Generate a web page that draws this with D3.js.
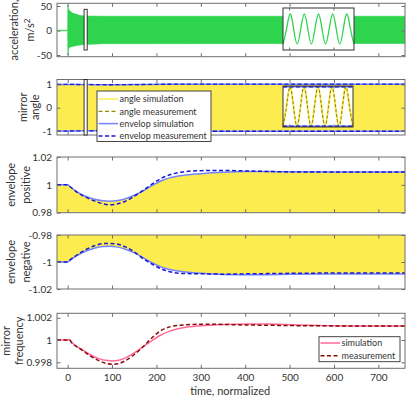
<!DOCTYPE html>
<html>
<head>
<meta charset="utf-8">
<title>Mirror response</title>
<script src="https://d3js.org/d3.v7.min.js"></script>
<style>
    body { margin: 0; background: #fff; }
    svg text { font-family: "Lato", "Liberation Sans", Arial, sans-serif; fill: #333; }
</style>
</head>
<body>
<div id="chart"></div>
<script>
    // ---- data ----
    const timeTicks = [0, 100, 200, 300, 400, 500, 600, 700];

    // acceleration: envelope of the dense oscillation
    const accelTime  = [-24, 0, 0.5, 2, 5, 10, 16, 28, 40, 80, 760];
    const accelUpper = [0.7, 0.7, 52, 44, 40, 36, 34, 30.6, 29.5, 29, 29];
    const accelLower = [-0.7, -0.7, -50, -38, -34, -32.5, -31.5, -29.5, -28.5, -27, -26.5];

    // zoom insets: a few cycles of the oscillation (quarter-cycle samples)
    const insetPhase = [0, 0.25, 0.5, 0.75, 1, 1.25, 1.5, 1.75, 2, 2.25, 2.5, 2.75, 3, 3.25, 3.5, 3.75, 4, 4.25, 4.5, 4.75, 5];
    const insetWave  = [-1, 0, 1, 0, -1, 0, 1, 0, -1, 0, 1, 0, -1, 0, 1, 0, -1, 0, 1, 0, -1];
    const zoomWindow = [37, 44];

    // envelope, positive side
    const envTime      = [-24, 0, 5, 20, 40, 60, 80, 95, 110, 130, 150, 170, 190, 210, 230, 260, 300, 350, 400, 450, 500, 600, 700, 760];
    const envPosSim    = [1, 1, 0.9988, 0.9952, 0.9918, 0.9897, 0.9886, 0.9883, 0.9886, 0.9900, 0.9925, 0.9957, 0.9995, 1.0028, 1.0050, 1.0068, 1.0080, 1.0090, 1.0095, 1.0095, 1.0094, 1.0093, 1.0093, 1.0093];
    const envPosMeas   = [1, 1, 0.9988, 0.9950, 0.9912, 0.9885, 0.9864, 0.9857, 0.9862, 0.9882, 0.9918, 0.9960, 1.0005, 1.0045, 1.0072, 1.0093, 1.0102, 1.0103, 1.0100, 1.0096, 1.0093, 1.0092, 1.0092, 1.0092];
    // envelope, negative side
    const envNegSim    = [-1, -1, -0.9988, -0.9955, -0.9920, -0.9898, -0.9886, -0.9884, -0.9888, -0.9905, -0.9932, -0.9967, -1.0005, -1.0036, -1.0056, -1.0072, -1.0083, -1.0092, -1.0095, -1.0094, -1.0091, -1.0088, -1.0088, -1.0088];
    const envNegMeas   = [-1, -1, -0.9986, -0.9950, -0.9910, -0.9880, -0.9864, -0.9862, -0.9866, -0.9888, -0.9925, -0.9975, -1.0015, -1.0050, -1.0072, -1.0085, -1.0087, -1.0090, -1.0088, -1.0086, -1.0084, -1.0082, -1.0082, -1.0082];

    // mirror frequency
    const freqTime = [-24, 0, 3, 10, 30, 50, 70, 90, 100, 115, 130, 150, 170, 190, 210, 230, 260, 300, 350, 400, 450, 500, 550, 600, 700, 760];
    const freqSim  = [1, 1, 1.00005, 0.99975, 0.99920, 0.99870, 0.99833, 0.99815, 0.99812, 0.99818, 0.99840, 0.99885, 0.99940, 0.99995, 1.00045, 1.00080, 1.00110, 1.00128, 1.00140, 1.00145, 1.00143, 1.00138, 1.00132, 1.00128, 1.00126, 1.00126];
    const freqMeas = [1, 1, 1.00005, 0.99972, 0.99915, 0.99860, 0.99815, 0.99787, 0.99782, 0.99788, 0.99815, 0.99870, 0.99940, 1.00020, 1.00085, 1.00118, 1.00135, 1.00142, 1.00140, 1.00135, 1.00133, 1.00130, 1.00128, 1.00127, 1.00127, 1.00127];

    const angleLegend = ["angle simulation", "angle measurement", "envelop simulation", "envelop measurement"];
    const freqLegend = ["simulation", "measurement"];

    // ---- colours ----
    const green = "#2ed34e", yellow = "#fcec50", olive = "#9c8a00";
    const blueSim = "#7484ff", blueMeas = "#1818d8";
    const pink = "#ff6a98", darkRed = "#870a0a";
    const axisColor = "#6e6e6e";

    // ---- layout ----
    const width = 407, height = 399;
    const plotLeft = 57, plotW = 348;
    const timeDomain = [-24, 760];

    const svg = d3.select("#chart").append("svg")
        .attr("width", width).attr("height", height);

    const x = d3.scaleLinear().domain(timeDomain).range([0, plotW]);
    const zip = (t, v) => t.map((ti, i) => ({t: ti, v: v[i]}));

    // one panel: axes box with inward ticks and a two line y label
    function makePanel(id, top, h, yDomain, yTicks, labelLines, labelX, showX) {
        const y = d3.scaleLinear().domain(yDomain).range([h, 0]);
        const g = svg.append("g").attr("transform", `translate(${plotLeft},${top})`);
        g.append("clipPath").attr("id", "clip" + id)
            .append("rect").attr("width", plotW).attr("height", h);
        const body = g.append("g").attr("clip-path", `url(#clip${id})`);
        const front = g.append("g");

        const fmt = d => String(d);
        front.append("g").call(d3.axisLeft(y).tickValues(yTicks).tickSize(-3.5).tickPadding(5).tickFormat(fmt));
        front.append("g").attr("transform", `translate(${plotW},0)`)
            .call(d3.axisRight(y).tickValues(yTicks).tickSize(-3.5).tickFormat(""));
        front.append("g").call(d3.axisTop(x).tickValues(timeTicks).tickSize(-3.5).tickFormat(""));
        front.append("g").attr("transform", `translate(0,${h})`)
            .call(d3.axisBottom(x).tickValues(timeTicks).tickSize(-3.5).tickPadding(6)
                .tickFormat(showX ? fmt : ""));
        front.selectAll(".domain").remove();
        front.selectAll(".tick line").attr("stroke", axisColor);
        front.selectAll(".tick text").attr("font-size", 10).style("fill", "#333");
        front.append("rect").attr("width", plotW).attr("height", h)
            .attr("fill", "none").attr("stroke", axisColor).attr("stroke-width", 1);

        const lab = svg.append("text")
            .attr("transform", `translate(${labelX},${top + h / 2}) rotate(-90)`)
            .attr("text-anchor", "middle").attr("font-size", 11);
        labelLines.forEach((ln, i) => {
            const ts = lab.append("tspan").attr("x", 0).attr("dy", i === 0 ? 0 : ln.dy || 13);
            if (ln.sup) {
                ts.text(ln.text);
                lab.append("tspan").attr("dy", -4).attr("font-size", 8).text(ln.sup);
            } else {
                ts.text(ln.text);
            }
        });
        return {g, body, front, y, h};
    }

    // ---- panel 1: acceleration ----
    const p1 = makePanel(1, 3.3, 53.4, [-53.5, 55.5], [-50, 0, 50],
        [{text: "acceleration,"}, {text: "m/s", sup: "2", dy: 16}], 18, false);
    const accelBand = accelTime.map((t, i) => ({t, hi: accelUpper[i], lo: accelLower[i]}));
    p1.body.append("path").datum(accelBand)
        .attr("fill", green).attr("stroke", green).attr("stroke-width", 0.6)
        .attr("d", d3.area().x(d => x(d.t)).y0(d => p1.y(d.lo)).y1(d => p1.y(d.hi)));
    p1.front.append("rect")
        .attr("x", x(zoomWindow[0])).attr("width", x(zoomWindow[1]) - x(zoomWindow[0]))
        .attr("y", 6).attr("height", 40.7)
        .attr("fill", "#fff").attr("stroke", "#222").attr("stroke-width", 0.9);

    // zoom inset helper
    function inset(panel, left, top, w, h, yDom, draw) {
        const ig = panel.front.append("g").attr("transform", `translate(${left},${top})`);
        ig.append("rect").attr("width", w).attr("height", h).attr("fill", "#fff");
        const ix = d3.scaleLinear().domain([0, 5]).range([0, w]);
        const iy = d3.scaleLinear().domain(yDom).range([h, 0]);
        draw(ig, ix, iy, w);
        ig.append("rect").attr("width", w).attr("height", h)
            .attr("fill", "none").attr("stroke", "#333").attr("stroke-width", 1);
        [500, 600].forEach(t => {
            const tx = x(t) - left;
            ig.append("line").attr("x1", tx).attr("x2", tx).attr("y1", h).attr("y2", h - 2.5).attr("stroke", axisColor);
            ig.append("line").attr("x1", tx).attr("x2", tx).attr("y1", 0).attr("y2", 2.5).attr("stroke", axisColor);
        });
    }
    const waveLine = (ix, iy) => d3.line().x(d => ix(d.t)).y(d => iy(d.v)).curve(d3.curveNatural);
    const wave = zip(insetPhase, insetWave);

    inset(p1, 226, 4.7, 71, 42, [-1.4, 1.4], (ig, ix, iy) => {
        ig.append("path").datum(wave).attr("fill", "none").attr("stroke", green)
            .attr("stroke-width", 1.3).attr("d", waveLine(ix, iy));
    });

    // ---- panel 2: mirror angle ----
    const p2 = makePanel(2, 79.5, 55.5, [-1.17, 1.21], [-1, 0, 1],
        [{text: "mirror"}, {text: "angle", dy: 12}], 27, false);
    const lineT = y => d3.line().x(d => x(d.t)).y(d => y(d.v)).curve(d3.curveMonotoneX);
    const band2 = envTime.map((t, i) => ({t, hi: envPosSim[i], lo: envNegSim[i]}));
    p2.body.append("path").datum(band2).attr("fill", yellow)
        .attr("d", d3.area().x(d => x(d.t)).y0(d => p2.y(d.lo)).y1(d => p2.y(d.hi)));
    [[envPosSim, envPosMeas], [envNegSim, envNegMeas]].forEach(([s, m]) => {
        p2.body.append("path").datum(zip(envTime, s)).attr("fill", "none")
            .attr("stroke", blueSim).attr("stroke-width", 1.5).attr("d", lineT(p2.y));
        p2.body.append("path").datum(zip(envTime, m)).attr("fill", "none")
            .attr("stroke", blueMeas).attr("stroke-width", 1.3).attr("stroke-dasharray", "4,2.5").attr("d", lineT(p2.y));
    });
    p2.front.append("rect")
        .attr("x", x(zoomWindow[0])).attr("width", x(zoomWindow[1]) - x(zoomWindow[0]))
        .attr("y", 0).attr("height", p2.h)
        .attr("fill", "#fff").attr("stroke", "#222").attr("stroke-width", 0.9);

    inset(p2, 226, 6.5, 70, 41, [-1.04, 1.04], (ig, ix, iy, w) => {
        ig.append("path").datum(wave).attr("fill", "none").attr("stroke", yellow)
            .attr("stroke-width", 2).attr("d", waveLine(ix, iy));
        ig.append("path").datum(wave).attr("fill", "none").attr("stroke", olive)
            .attr("stroke-width", 1.1).attr("stroke-dasharray", "3,2").attr("d", waveLine(ix, iy));
        [1, -1].forEach(v => {
            ig.append("line").attr("x1", 0).attr("x2", w).attr("y1", iy(v)).attr("y2", iy(v))
                .attr("stroke", blueSim).attr("stroke-width", 1.5);
            ig.append("line").attr("x1", 0).attr("x2", w).attr("y1", iy(v)).attr("y2", iy(v))
                .attr("stroke", blueMeas).attr("stroke-width", 1.3).attr("stroke-dasharray", "4,2.5");
        });
    });

    // legend helper
    function legend(panel, lx, ly, w, h, items, rowH, firstY) {
        const lg = panel.front.append("g").attr("transform", `translate(${lx},${ly})`);
        lg.append("rect").attr("width", w).attr("height", h)
            .attr("fill", "#fff").attr("stroke", "#333").attr("stroke-width", 0.9);
        items.forEach((it, i) => {
            const yy = firstY + i * rowH;
            lg.append("line").attr("x1", 1.5).attr("x2", 21).attr("y1", yy).attr("y2", yy)
                .attr("stroke", it.color).attr("stroke-width", it.width)
                .attr("stroke-dasharray", it.dash || null);
            lg.append("text").attr("x", 22.5).attr("y", yy + 3.2)
                .attr("font-size", 9).text(it.label);
        });
    }
    legend(p2, 40, 11.5, 114, 50.5, [
        {label: angleLegend[0], color: yellow, width: 1.5},
        {label: angleLegend[1], color: olive, width: 1.3, dash: "4,2.5"},
        {label: angleLegend[2], color: blueSim, width: 1.5},
        {label: angleLegend[3], color: blueMeas, width: 1.5, dash: "4,2.5"}
    ], 12.3, 8);

    // ---- panel 3: positive envelope ----
    const p3 = makePanel(3, 157, 55.7, [0.98, 1.02], [0.98, 1, 1.02],
        [{text: "envelope"}, {text: "positive", dy: 15}], 14.5, false);
    p3.body.append("path").datum(zip(envTime, envPosSim)).attr("fill", yellow)
        .attr("d", d3.area().x(d => x(d.t)).y0(p3.h).y1(d => p3.y(d.v)).curve(d3.curveMonotoneX));
    p3.body.append("path").datum(zip(envTime, envPosSim)).attr("fill", "none")
        .attr("stroke", blueSim).attr("stroke-width", 1.5).attr("d", lineT(p3.y));
    p3.body.append("path").datum(zip(envTime, envPosMeas)).attr("fill", "none")
        .attr("stroke", blueMeas).attr("stroke-width", 1.5).attr("stroke-dasharray", "4,2.5").attr("d", lineT(p3.y));

    // ---- panel 4: negative envelope ----
    const p4 = makePanel(4, 235, 54, [-1.02, -0.98], [-1.02, -1, -0.98],
        [{text: "envelope"}, {text: "negative", dy: 15}], 14.5, false);
    p4.body.append("path").datum(zip(envTime, envNegSim)).attr("fill", yellow)
        .attr("d", d3.area().x(d => x(d.t)).y0(0).y1(d => p4.y(d.v)).curve(d3.curveMonotoneX));
    p4.body.append("path").datum(zip(envTime, envNegSim)).attr("fill", "none")
        .attr("stroke", blueSim).attr("stroke-width", 1.5).attr("d", lineT(p4.y));
    p4.body.append("path").datum(zip(envTime, envNegMeas)).attr("fill", "none")
        .attr("stroke", blueMeas).attr("stroke-width", 1.5).attr("stroke-dasharray", "4,2.5").attr("d", lineT(p4.y));

    // ---- panel 5: mirror frequency ----
    const p5 = makePanel(5, 313.3, 55, [0.99746, 1.0024], [0.998, 1, 1.002],
        [{text: "mirror"}, {text: "frequency", dy: 13}], 10, true);
    p5.body.append("path").datum(zip(freqTime, freqSim)).attr("fill", "none")
        .attr("stroke", pink).attr("stroke-width", 1.5).attr("d", lineT(p5.y));
    p5.body.append("path").datum(zip(freqTime, freqMeas)).attr("fill", "none")
        .attr("stroke", darkRed).attr("stroke-width", 1.5).attr("stroke-dasharray", "4,2.5").attr("d", lineT(p5.y));
    legend(p5, 262, 23.4, 81, 25, [
        {label: freqLegend[0], color: pink, width: 1.5},
        {label: freqLegend[1], color: darkRed, width: 1.5, dash: "4,2.5"}
    ], 12.7, 6.3);

    svg.append("text").attr("x", plotLeft + x(400) - 15).attr("y", 395)
        .attr("text-anchor", "middle").attr("font-size", 11).text("time, normalized");
</script>
</body>
</html>
